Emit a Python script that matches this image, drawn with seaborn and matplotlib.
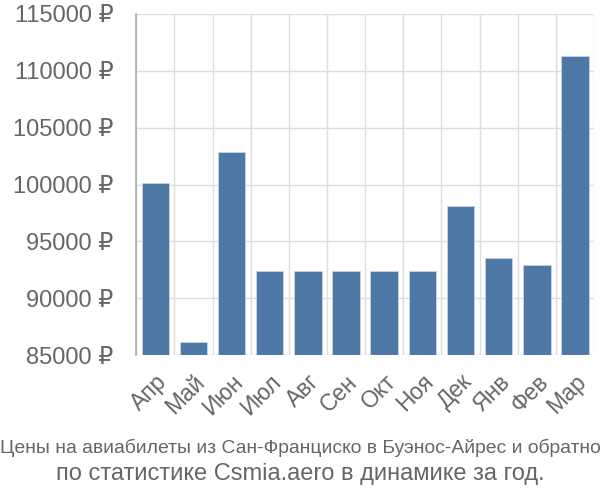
import matplotlib
matplotlib.use("Agg")
import matplotlib.pyplot as plt
import seaborn as sns
import pandas as pd
import numpy as np
from matplotlib.ticker import FuncFormatter, FixedLocator

months = ["Апр", "Май", "Июн", "Июл", "Авг", "Сен", "Окт", "Ноя", "Дек", "Янв", "Фев", "Мар"]
prices = [100100, 86150, 102900, 92400, 92400, 92400, 92400, 92400, 98150, 93550, 92900, 111300]
yticks = [85000, 90000, 95000, 100000, 105000, 110000, 115000]
title_lines = ["Цены на авиабилеты из Сан-Франциско в Буэнос-Айрес и обратно",
               "по статистике Csmia.aero в динамике за год."]

sns.set_theme(style="white")
plt.rcParams['font.family'] = ['Liberation Sans', 'DejaVu Sans']

df = pd.DataFrame({"month": months, "price": prices})

fig = plt.figure(figsize=(6, 5), dpi=100)
ax = fig.add_axes([0.227, 0.29, 0.763, 0.682])

sns.barplot(data=df, x="month", y="price", color="#4e79a7", width=0.72,
            edgecolor="#c8d4e4", linewidth=0.6, saturation=1, ax=ax, zorder=3)

ax.set_ylim(85000, 115000)
ax.set_xlim(-0.5, len(months) - 0.5)
ax.yaxis.set_major_locator(FixedLocator(yticks))
ax.yaxis.set_major_formatter(FuncFormatter(lambda v, p: f"{int(v)} ₽"))
ax.set_xticks(np.arange(-0.5, len(months), 1.0), minor=True)
ax.grid(True, axis="y", which="major", color="#dddddd", linewidth=1, zorder=0)
ax.grid(True, axis="x", which="minor", color="#dddddd", linewidth=1, zorder=0)
ax.grid(False, axis="x", which="major")

ax.tick_params(axis="y", which="major", length=16, width=1, color="#dddddd",
               labelsize=17, labelcolor="#666666", pad=0.5)
ax.tick_params(axis="x", which="major", length=0, labelsize=16.5, labelcolor="#666666", pad=11)
ax.tick_params(axis="x", which="minor", length=15, width=1, color="#dddddd")
for lab in ax.get_xticklabels():
    lab.set_rotation(45)
    lab.set_ha("right")
    lab.set_rotation_mode("anchor")

for s in ["top", "right", "bottom"]:
    ax.spines[s].set_visible(False)
ax.spines["left"].set_color("#aaaaaa")
ax.spines["left"].set_linewidth(1.2)
ax.spines["left"].set_zorder(4)
ax.set_xlabel("")
ax.set_ylabel("")

fig.text(0.5, 0.104, title_lines[0], ha="center", va="center", fontsize=13.9,
         color="#666666")
fig.text(0.5, 0.052, title_lines[1], ha="center", va="center", fontsize=17,
         color="#666666")

fig.savefig("out.png", dpi=100)
